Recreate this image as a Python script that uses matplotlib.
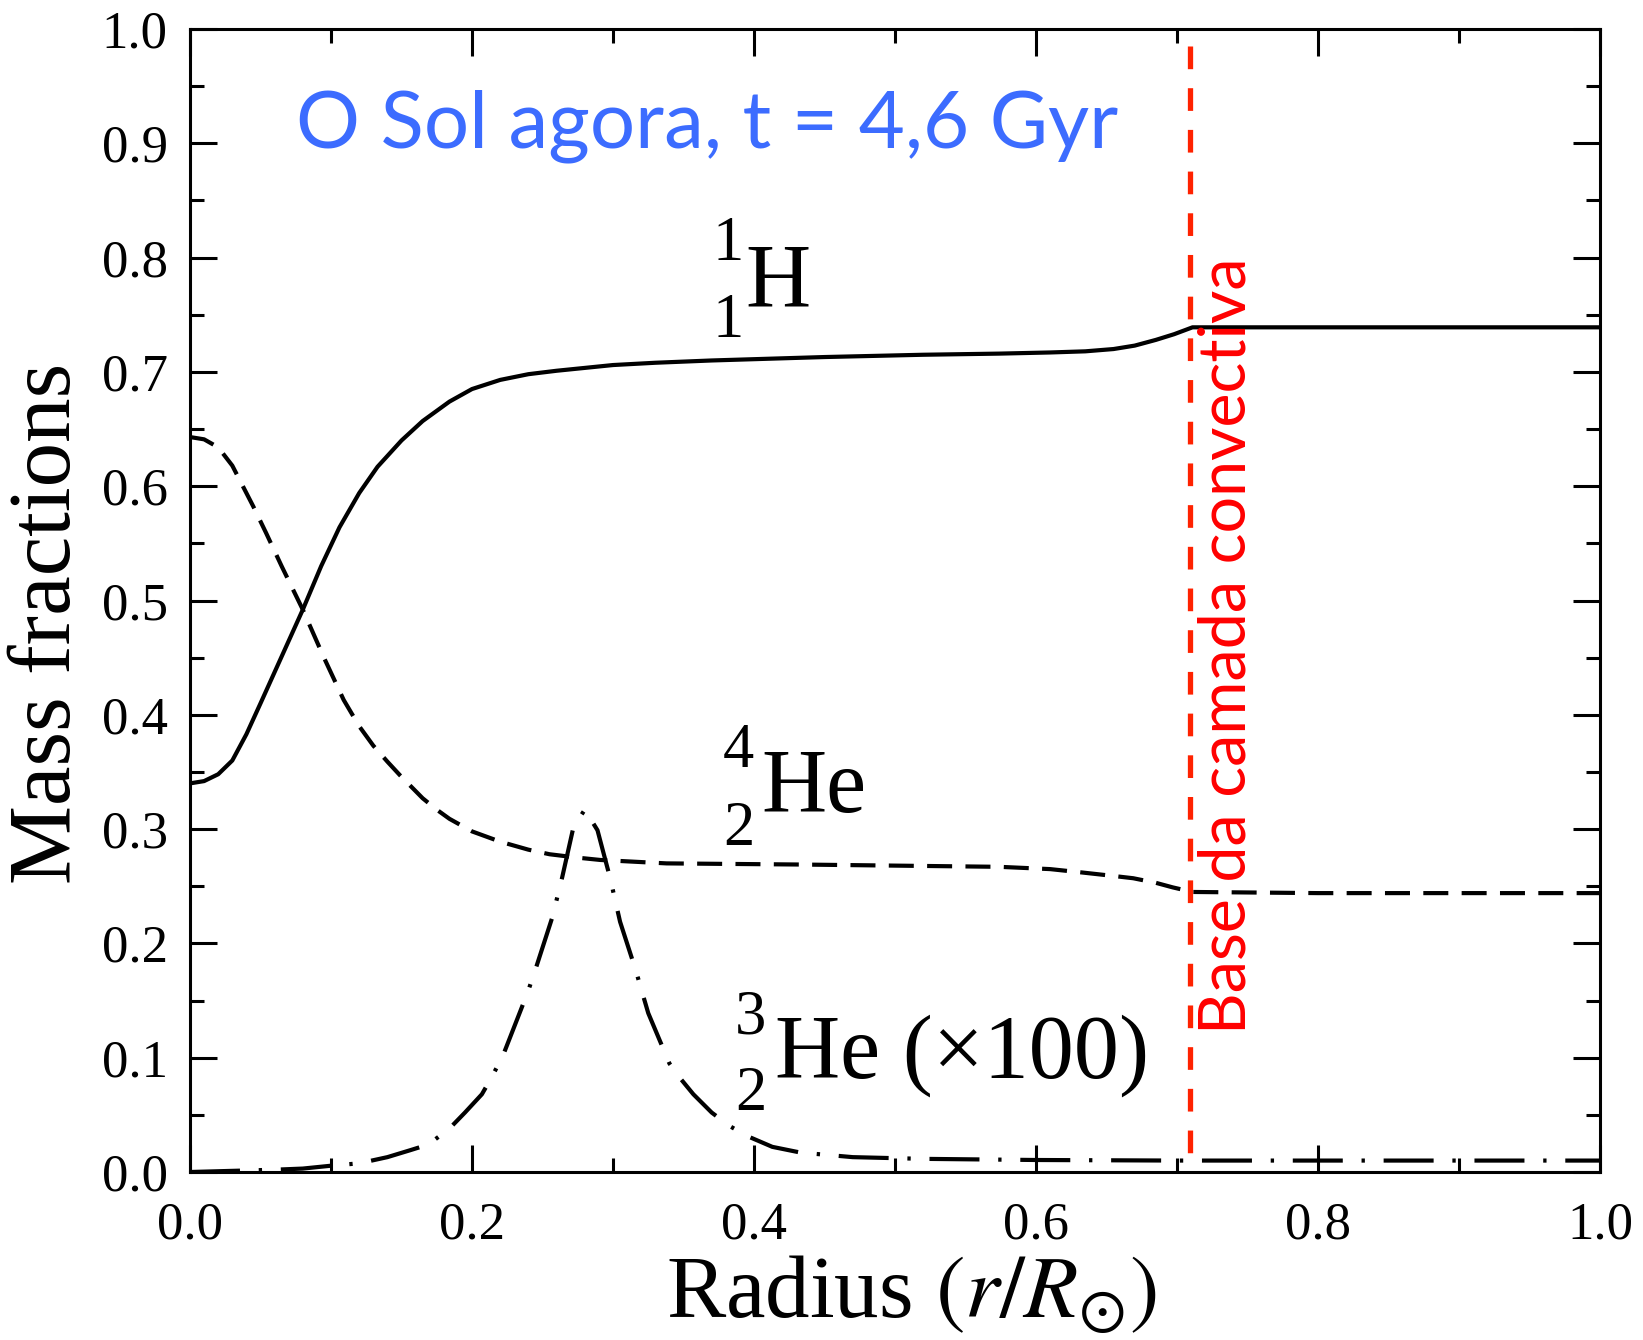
import matplotlib
matplotlib.use("Agg")
import matplotlib.pyplot as plt
from matplotlib.ticker import MultipleLocator

# ---------------- data ----------------
r_H = [0.0, 0.01, 0.02, 0.03, 0.04, 0.05, 0.065, 0.08, 0.093, 0.106, 0.12, 0.133,
       0.15, 0.165, 0.184, 0.20, 0.22, 0.24, 0.26, 0.28, 0.30, 0.33, 0.37, 0.45, 0.52,
       0.574, 0.61, 0.635, 0.655, 0.67, 0.685, 0.698, 0.711, 0.80, 0.90, 1.0]
X_H = [0.340, 0.342, 0.348, 0.360, 0.383, 0.410, 0.451, 0.492, 0.530, 0.564, 0.594, 0.617,
       0.640, 0.657, 0.674, 0.685, 0.693, 0.698, 0.701, 0.7035, 0.706, 0.708, 0.710, 0.713, 0.715,
       0.716, 0.717, 0.718, 0.720, 0.723, 0.728, 0.733, 0.739, 0.739, 0.739, 0.739]

r_He4 = [0.0, 0.01, 0.02, 0.03, 0.035, 0.045, 0.054, 0.065, 0.08, 0.095, 0.109, 0.12, 0.13,
         0.14, 0.149, 0.165, 0.175, 0.184, 0.2, 0.22, 0.24, 0.255, 0.275, 0.291, 0.338,
         0.433, 0.574, 0.61, 0.633, 0.655, 0.669, 0.685, 0.697, 0.711, 0.8, 0.9, 1.0]
X_He4 = [0.643, 0.641, 0.634, 0.618, 0.606, 0.582, 0.559, 0.530, 0.492, 0.450, 0.413, 0.390, 0.373,
         0.359, 0.347, 0.327, 0.317, 0.309, 0.298, 0.289, 0.282, 0.278, 0.275, 0.273, 0.270,
         0.269, 0.267, 0.265, 0.262, 0.259, 0.257, 0.253, 0.249, 0.245, 0.244, 0.244, 0.244]

r_He3 = [0.0, 0.03, 0.06, 0.08, 0.1, 0.12, 0.14, 0.156, 0.169, 0.184, 0.195, 0.207,
         0.214, 0.222, 0.235, 0.240, 0.246, 0.257, 0.264, 0.272, 0.280, 0.289, 0.298,
         0.305, 0.316, 0.325, 0.340, 0.347, 0.357, 0.370, 0.383, 0.396, 0.413, 0.433,
         0.47, 0.52, 0.60, 0.70, 0.80, 1.0]
X_He3_x100 = [0.000, 0.001, 0.002, 0.003, 0.0055, 0.0076, 0.013, 0.019, 0.024, 0.038, 0.052, 0.068,
              0.083, 0.102, 0.143, 0.159, 0.181, 0.223, 0.258, 0.302, 0.317, 0.299, 0.257,
              0.219, 0.177, 0.139, 0.095, 0.083, 0.068, 0.052, 0.040, 0.031, 0.022, 0.017,
              0.013, 0.0115, 0.0105, 0.010, 0.010, 0.010]

r_cz = [0.709, 0.709]          # base of the convective zone
cz_span = [0.985, 0.010]

x_ticks = [0.0, 0.2, 0.4, 0.6, 0.8, 1.0]
y_ticks = [0.0, 0.1, 0.2, 0.3, 0.4, 0.5, 0.6, 0.7, 0.8, 0.9, 1.0]

title_text = "O Sol agora, t = 4,6 Gyr"
cz_text = "Base da camada convectiva"

# ---------------- figure ----------------
W, H = 1643, 1340
plt.rcParams['mathtext.fontset'] = 'stix'
fig = plt.figure(figsize=(W / 100, H / 100), dpi=100)
ax = fig.add_axes([190 / W, 168 / H, 1410 / W, 1143 / H])

serif = 'Liberation Serif'
sans = 'Lato'

ax.plot(r_H, X_H, color='black', lw=3.0, solid_capstyle='butt', solid_joinstyle='round')
ax.plot(r_He4, X_He4, color='black', lw=3.0, linestyle=(0, (6, 3.2)))
ax.plot(r_He3, X_He3_x100, color='black', lw=3.0, linestyle=(0, (12, 4.5, 0.8, 4.5)))
ax.plot(r_cz, cz_span, color='#ff2200', lw=3.8, linestyle=(0, (4.3, 3.6)))

ax.set_xlim(0, 1)
ax.set_ylim(0, 1)
ax.set_xticks(x_ticks)
ax.set_yticks(y_ticks)
ax.set_xticklabels([f"{v:.1f}" for v in x_ticks])
ax.set_yticklabels([f"{v:.1f}" for v in y_ticks])
ax.xaxis.set_minor_locator(MultipleLocator(0.1))
ax.yaxis.set_minor_locator(MultipleLocator(0.05))
ax.tick_params(which='both', direction='in', top=True, right=True, width=2.2, color='black')
ax.tick_params(which='major', length=19.5)
ax.tick_params(which='minor', length=10)
ax.tick_params(axis='x', which='major', pad=21)
ax.tick_params(axis='y', which='major', pad=16)
for lab in ax.get_xticklabels() + ax.get_yticklabels():
    lab.set_fontfamily(serif)
    lab.set_fontsize(38)
for s in ax.spines.values():
    s.set_linewidth(2.2)

# axis labels
fig.text(666 / W, 1 - 1317 / H, r"Radius $(r/R_{\odot})$", family=serif, fontsize=64,
         ha='left', va='baseline')
fig.text(49 / W, 1 - 623 / H, "Mass fractions", family=serif, fontsize=64,
         rotation=90, ha='center', va='center')

# species labels
def px2d(px, py):
    return (px - 190) / 1410, (1172 - py) / 1143

def lab(px, py, s, size):
    x, y = px2d(px, py)
    ax.text(x, y, s, family=serif, fontsize=size, ha='left', va='baseline')

lab(745, 306, "H", 65)
lab(713, 260, "1", 45)
lab(713, 337, "1", 45)
lab(761, 812, "He", 65)
lab(723, 767, "4", 45)
lab(723, 845, "2", 45)
lab(775, 1078, "He (\u00d7100)", 65)
lab(735, 1033, "3", 45)
lab(735, 1110, "2", 45)

# title annotation
tx, ty = px2d(296, 147)
ax.text(tx, ty, title_text, family=sans, fontsize=57.5, color='#3c6cff',
        ha='left', va='baseline')

# convective zone label
cx, cy = px2d(1245, 1034)
ax.text(cx, cy, cz_text, family=sans, fontsize=46.5, color='#ff0000', rotation=90,
        rotation_mode='anchor', ha='left', va='baseline')

fig.savefig("out.png", dpi=100, facecolor='white')
